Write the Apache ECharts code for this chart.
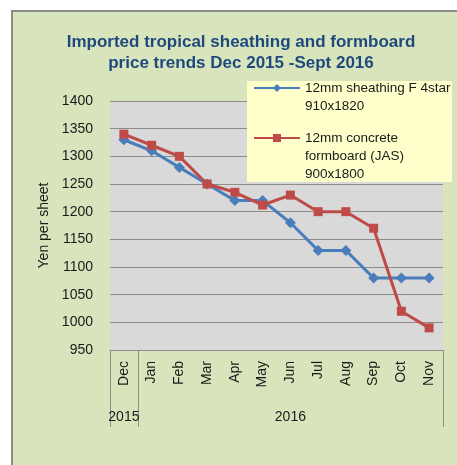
<!DOCTYPE html>
<html>
<head>
<meta charset="utf-8">
<script src="https://cdn.jsdelivr.net/npm/echarts@6/dist/echarts.min.js"></script>
<style>
html,body{margin:0;padding:0;background:#ffffff;}
#chart{width:457px;height:465px;}
</style>
</head>
<body>
<div id="chart"></div>
<script>
const categories = ['Dec','Jan','Feb','Mar','Apr','May','Jun','Jul','Aug','Sep','Oct','Nov'];
const yearLabels = ['2015','','','','','','2016','','','','',''];
const sheathing = [1330,1310,1280,1250,1220,1220,1180,1130,1130,1080,1080,1080];
const formboard = [1340,1320,1300,1250,1235,1212,1230,1200,1200,1170,1020,990];
const sheathingName = '12mm sheathing F 4star\n910x1820';
const formboardName = '12mm concrete\nformboard (JAS)\n900x1800';
const yTicks = {min: 950, max: 1400, interval: 50};

const FONT = 'Liberation Sans';
const chart = echarts.init(document.getElementById('chart'), null, {renderer: 'canvas'});
chart.setOption({
  backgroundColor: '#ffffff',
  animation: false,
  textStyle: {fontFamily: FONT},
  title: {
    text: 'Imported tropical sheathing and formboard\nprice trends Dec 2015 -Sept 2016',
    left: 241, top: 32, textAlign: 'center', padding: 0,
    textStyle: {fontFamily: FONT, fontSize: 17, fontWeight: 'bold', color: '#1f497d', lineHeight: 21}
  },
  graphic: [
    {type: 'rect', z: -10, shape: {x: 12, y: 11, width: 460, height: 470},
     style: {fill: '#d8e4bc', stroke: '#8c8c8c', lineWidth: 2}},
    {type: 'rect', z: 1, shape: {x: 247, y: 81, width: 205, height: 101},
     style: {fill: '#ffffcc'}}
  ],
  legend: {
    orient: 'vertical', left: 253, top: 61, padding: 0, itemGap: -22,
    itemWidth: 46, itemHeight: 10, z: 5,
    textStyle: {fontFamily: FONT, fontSize: 13.5, color: '#1a1a1a', lineHeight: 18},
    formatter: function (name) {
      const n = name.split('\n').length;
      return '\n'.repeat(n - 1) + name;
    },
    data: [sheathingName, formboardName]
  },
  grid: {left: 110, right: 14, top: 101, bottom: 115, show: true, backgroundColor: '#d9d9d9', borderWidth: 0},
  xAxis: [
    {
      type: 'category', data: categories, boundaryGap: true, position: 'bottom',
      axisLine: {show: true, lineStyle: {color: '#8c8c8c', width: 1}},
      axisTick: {show: false},
      axisLabel: {rotate: 90, margin: 11, fontSize: 14, color: '#1a1a1a', fontFamily: FONT, interval: 0}
    },
    {
      type: 'category', data: yearLabels, boundaryGap: true, position: 'bottom',
      axisLine: {show: false},
      axisTick: {show: true, length: 77, interval: function (i) { return i <= 1; }, lineStyle: {color: '#8c8c8c'}},
      axisLabel: {margin: 60, fontSize: 14, color: '#1a1a1a', fontFamily: FONT, interval: 0}
    }
  ],
  yAxis: {
    type: 'value', min: yTicks.min, max: yTicks.max, interval: yTicks.interval,
    name: 'Yen per sheet', nameLocation: 'middle', nameGap: 57, nameRotate: 90,
    nameTextStyle: {fontSize: 14, color: '#1a1a1a', fontFamily: FONT},
    axisLine: {show: false}, axisTick: {show: false},
    axisLabel: {margin: 17, fontSize: 14, color: '#1a1a1a', fontFamily: FONT,
      formatter: function (v) { return String(v); }},
    splitLine: {show: true, lineStyle: {color: '#8c8c8c', width: 1}}
  },
  series: [
    {
      name: sheathingName, type: 'line', data: sheathing, xAxisIndex: 0,
      symbol: 'diamond', symbolSize: 11, z: 3,
      lineStyle: {color: '#4a7ebb', width: 3},
      itemStyle: {color: '#4a7ebb'}
    },
    {
      name: formboardName, type: 'line', data: formboard, xAxisIndex: 0,
      symbol: 'rect', symbolSize: 9, z: 4,
      lineStyle: {color: '#be4b48', width: 3},
      itemStyle: {color: '#be4b48'}
    }
  ]
});
</script>
</body>
</html>
